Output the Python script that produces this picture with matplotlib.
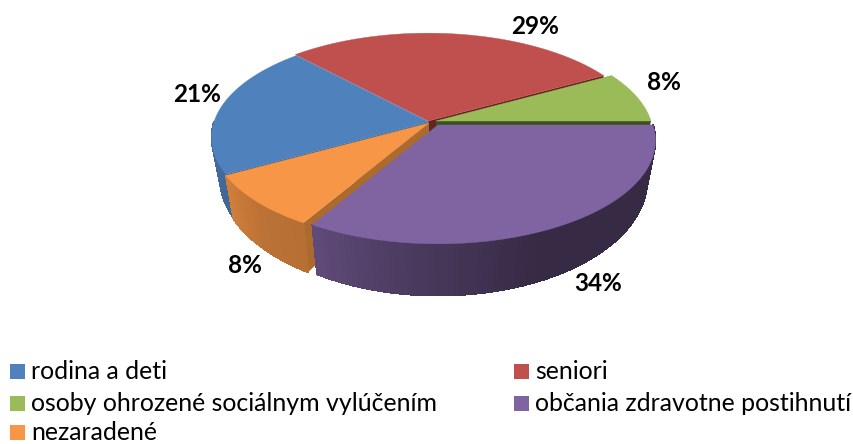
import numpy as np
import matplotlib
matplotlib.use("Agg")
import matplotlib.pyplot as plt
from matplotlib.colors import to_rgb
from matplotlib.patches import Rectangle

# slices in clockwise order, starting at 3 o'clock
categories = ["občania zdravotne postihnutí", "nezaradené", "rodina a deti",
              "seniori", "osoby ohrozené sociálnym vylúčením"]
# the labels show them rounded
values = [33.5, 8.5, 21, 29, 8]
colors = ["#8064a2", "#f79646", "#4f81bd", "#c0504d", "#9bbb59"]
cut_colors = ["#4a3a5e", "#ab6a2e", "#274a72", "#632422", "#3f4f24"]

legend_order = ["rodina a deti", "seniori", "osoby ohrozené sociálnym vylúčením",
                "občania zdravotne postihnutí", "nezaradené"]

# where each slice's tip sits, in pixels (the pie is pulled apart a little)
tips = [(438, 125), (429, 123), (429, 122), (428, 121), (436, 121)]
label_pos = [(598, 283), (245, 265), (197, 94), (535, 27), (664, 83)]

k = 0.15  # perspective
A, B = 215, 101
A2, B2, D2 = 207, 108, 37


def top_xy(th, tip):
    u, v = np.cos(th), np.sin(th)
    w = 1 - k * v
    return tip[0] + A * u / w, tip[1] + B * v / w


def bottom_xy(th, tip):
    u, v = np.cos(th), np.sin(th)
    w = 1 - k * v
    return tip[0] + A2 * u / w, tip[1] + (B2 * v + D2) / w


def shade(color, f):
    return tuple(c * f for c in to_rgb(color))


fig = plt.figure(figsize=(8.54, 4.44), dpi=100)
ax = fig.add_axes([0, 0, 1, 1])
ax.set_xlim(0, 854)
ax.set_ylim(444, 0)
ax.axis("off")

edges = np.radians(np.cumsum([0] + values) * 3.6)
spans = list(zip(edges[:-1], edges[1:]))


def top_face(i, z):
    th = np.linspace(spans[i][0], spans[i][1], 80)
    x, y = top_xy(th, tips[i])
    ax.fill(np.r_[tips[i][0], x], np.r_[tips[i][1], y], color=colors[i], lw=0.3, zorder=z)


def cut_wall(i, th, z):
    tx, ty = top_xy(th, tips[i])
    bx, by = bottom_xy(th, tips[i])
    ax.fill([tips[i][0], tx, bx, tips[i][0]],
            [tips[i][1], ty, by, tips[i][1] + D2],
            color=cut_colors[i], lw=0, zorder=z)


def outer_wall(i, z, shade_at):
    a0, a1 = spans[i]
    a1 = min(a1, np.pi)
    if a0 >= a1:
        return
    th = np.linspace(a0, a1, 90)
    for t0, t1 in zip(th[:-1], th[1:]):
        x0, y0 = top_xy(t0, tips[i])
        x1, y1 = top_xy(t1, tips[i])
        x2, y2 = bottom_xy(t1, tips[i])
        x3, y3 = bottom_xy(t0, tips[i])
        f = np.interp(np.degrees(t0), shade_at[0], shade_at[1])
        c = shade(colors[i], f)
        # no antialiasing here, otherwise the strips show seams
        ax.fill([x0, x1, x2, x3], [y0, y1, y2, y3], color=c, lw=0.6,
                antialiased=False, zorder=z)


# back to front: walls of the cuts, then rims, then tops
cut_wall(3, spans[3][1], 1)
cut_wall(4, spans[4][0], 1)
cut_wall(4, 0.0, 1)
cut_wall(2, spans[2][0], 1)
top_face(3, 2)
top_face(4, 2)
outer_wall(2, 3, ([150, 180], [0.80, 0.84]))
top_face(2, 4)
cut_wall(1, spans[1][0], 5)
outer_wall(1, 6, ([122, 135, 151], [0.74, 0.76, 0.84]))
top_face(1, 7)
outer_wall(0, 8, ([0, 65, 95, 122], [0.42, 0.42, 0.58, 0.76]))
top_face(0, 9)

for v, (lx, ly) in zip(values, label_pos):
    ax.text(lx, ly, f"{v:.0f}%", ha="center", va="center", fontsize=17.5,
            fontweight="bold", family="Lato", color="black", zorder=10)

# legend
leg_x = [10, 514]
leg_y = [379, 410.5, 439.5]
for n, name in enumerate(legend_order):
    col = n % 2
    row = n // 2
    i = categories.index(name)
    ax.add_patch(Rectangle((leg_x[col], leg_y[row] - 15), 15, 15, color=colors[i], lw=0))
    ax.text(leg_x[col] + 21, leg_y[row], name, ha="left", va="baseline", fontsize=17.9,
            family="Lato", color="black")

fig.savefig("out.png", dpi=100)
